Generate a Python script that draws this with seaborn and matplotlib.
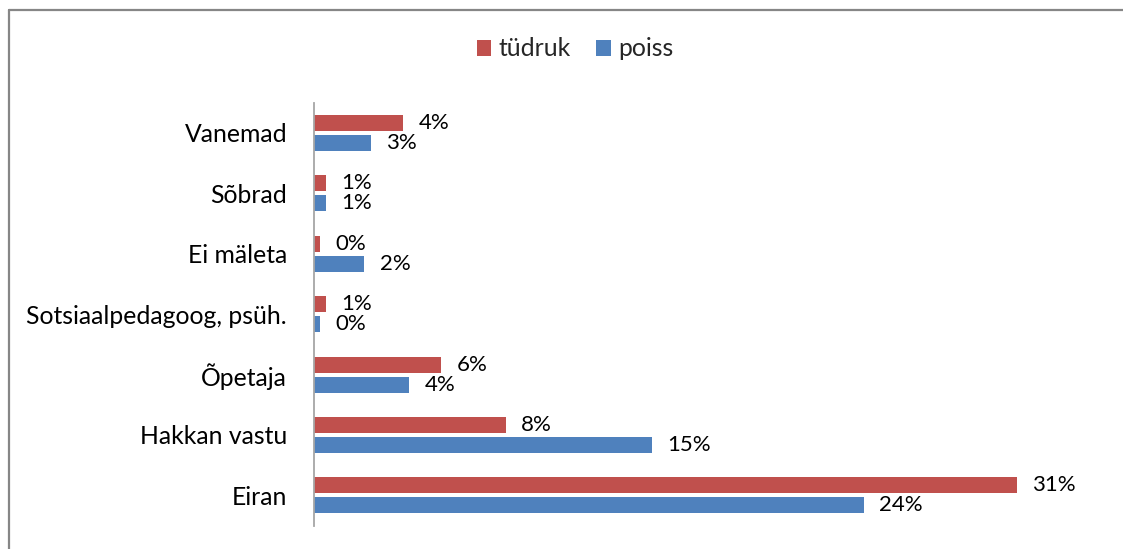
import matplotlib
matplotlib.use("Agg")
import matplotlib.pyplot as plt
import seaborn as sns
import pandas as pd
from matplotlib.lines import Line2D
from matplotlib.patches import Patch

categories = ["Vanemad", "Sõbrad", "Ei mäleta", "Sotsiaalpedagoog, psüh.",
              "Õpetaja", "Hakkan vastu", "Eiran"]
series_names = ["tüdruk", "poiss"]
tudruk = [3.96, 0.55, 0.29, 0.55, 5.63, 8.47, 31.0]
poiss = [2.54, 0.55, 2.24, 0.27, 4.22, 14.92, 24.24]
colors = ["#C0504D", "#4F81BD"]

df = pd.DataFrame({
    "kategooria": categories * 2,
    "väärtus": tudruk + poiss,
    "sugu": [series_names[0]] * len(categories) + [series_names[1]] * len(categories),
})

sns.set_theme(style="white")
FONT = "Lato"
plt.rcParams["font.family"] = [FONT, "DejaVu Sans"]
FS = 17.8
FS_LAB = 16

fig = plt.figure(figsize=(11.23, 5.49), dpi=100)
ax = fig.add_axes([313.5 / 1123, 1 - 525.5 / 549, 794.3 / 1123, 422.7 / 549])

sns.barplot(data=df, x="väärtus", y="kategooria", hue="sugu",
            order=categories, hue_order=series_names, palette=colors,
            orient="h", width=0.662, gap=0.2, linewidth=0, saturation=1,
            legend=False, ax=ax)

ax.set_xlim(0, 35)
ax.set_xlabel("")
ax.set_ylabel("")
ax.set_xticks([])
for s in ["top", "right", "bottom"]:
    ax.spines[s].set_visible(False)
ax.spines["left"].set_color("#A6A6A6")
ax.spines["left"].set_linewidth(1.3)
ax.tick_params(axis="y", length=0, pad=19, labelsize=FS, labelcolor="#000000")

for cont in ax.containers:
    labels = [f"{round(v)}%" for v in cont.datavalues]
    ax.bar_label(cont, labels=labels, padding=11, fontsize=FS_LAB, color="#000000")

handles = [Patch(facecolor=c, edgecolor="none") for c in colors]
fig.legend(handles, series_names, loc="center", bbox_to_anchor=(575 / 1123, 1 - 49 / 549),
           ncol=2, frameon=False, fontsize=FS, handlelength=0.6, handleheight=0.6,
           handletextpad=0.3, columnspacing=1.0)

# chart border (top and left visible)
fig.add_artist(Line2D([8.5 / 1123, 8.5 / 1123], [0, 1 - 9.5 / 549],
                      transform=fig.transFigure, color="#868686", linewidth=1.6))
fig.add_artist(Line2D([8.5 / 1123, 1], [1 - 9.5 / 549, 1 - 9.5 / 549],
                      transform=fig.transFigure, color="#868686", linewidth=1.6))

fig.savefig("out.png", dpi=100, facecolor="white")
